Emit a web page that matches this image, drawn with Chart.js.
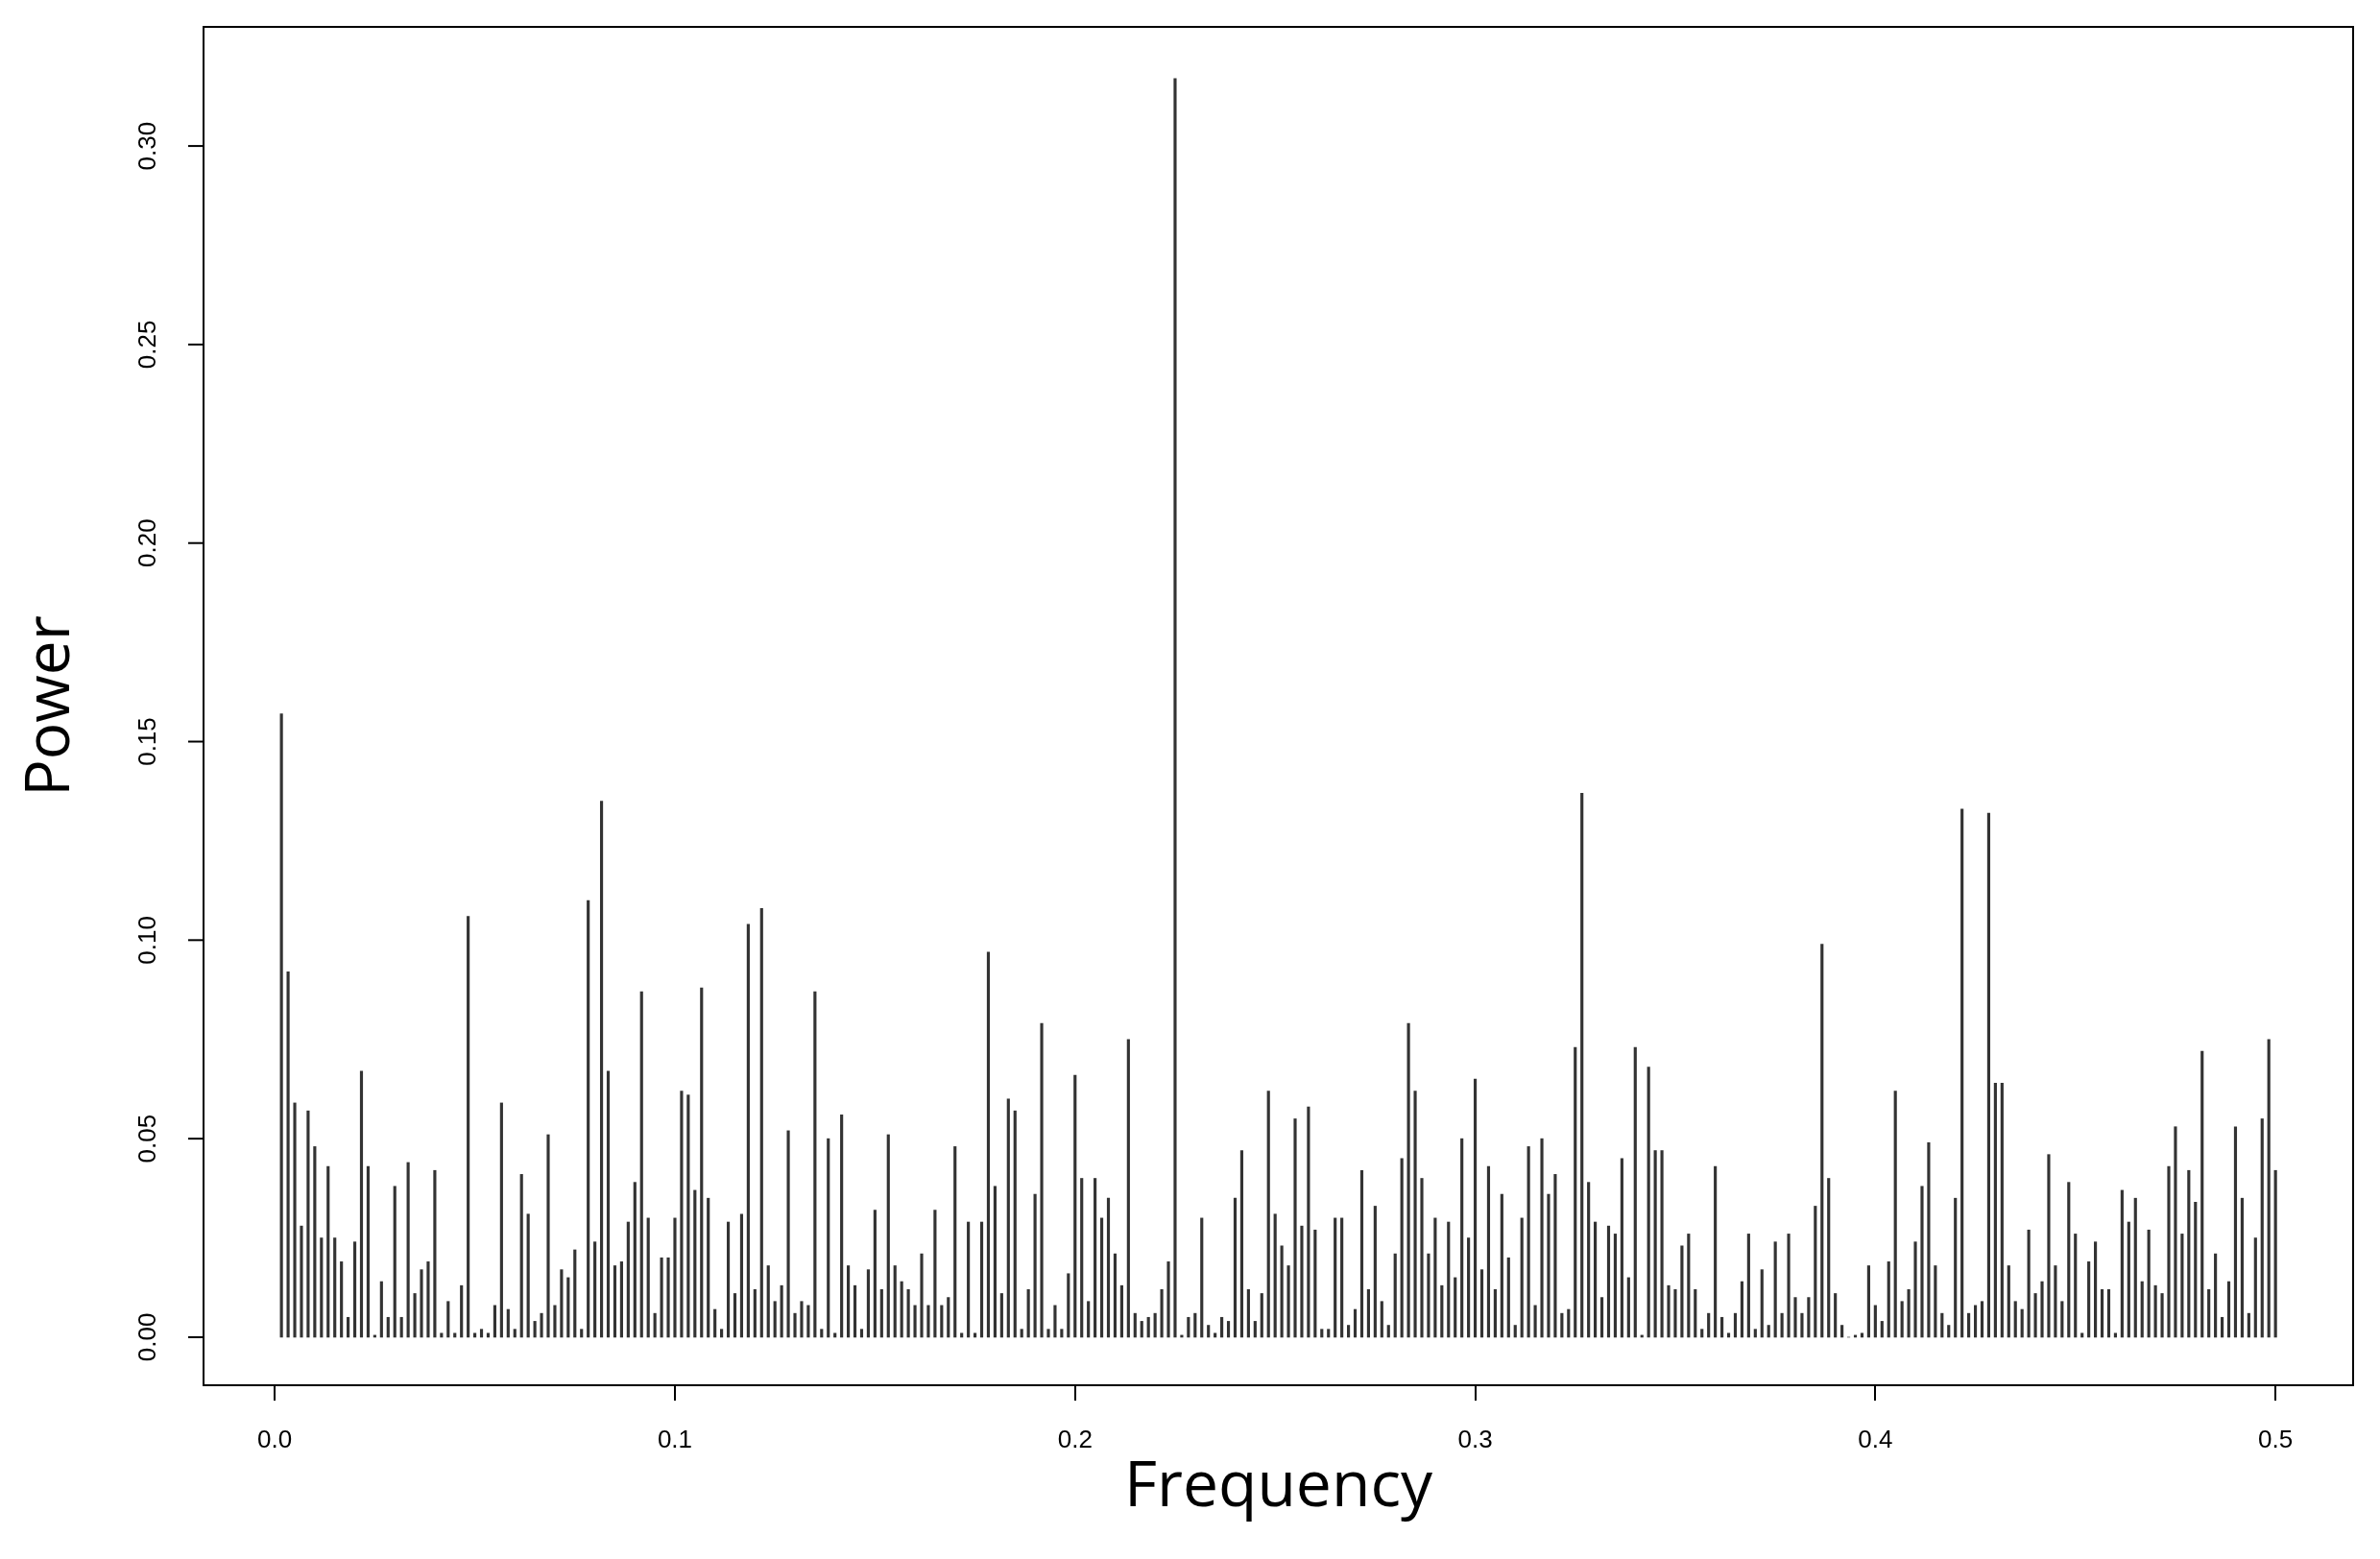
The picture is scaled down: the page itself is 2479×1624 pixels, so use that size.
<!DOCTYPE html>
<html><head><meta charset="utf-8">
<script src="https://cdn.jsdelivr.net/npm/chart.js@4.4.0/dist/chart.umd.min.js"></script>
<style>html,body{margin:0;padding:0;background:#fff}#wrap{width:2479px;height:1624px}</style>
</head><body><div id="wrap"><canvas id="c"></canvas></div>
<script>
const powerValues = [
0.157,0.092,0.059,0.028,0.057,0.048,0.025,0.043,0.025,0.019,0.005,0.024,0.067,0.043,0.0005,0.014,0.005,0.038,0.005,0.044,0.011,0.017,0.019,0.042,
0.001,0.009,0.001,0.013,0.106,0.001,0.002,0.001,0.008,0.059,0.007,0.002,0.041,0.031,0.004,0.006,0.051,0.008,0.017,0.015,0.022,0.002,0.110,0.024,0.135,
0.067,0.018,0.019,0.029,0.039,0.087,0.030,0.006,0.020,0.020,0.030,0.062,0.061,0.037,0.088,0.035,0.007,0.002,0.029,0.011,0.031,0.104,0.012,0.108,0.018,
0.009,0.013,0.052,0.006,0.009,0.008,0.087,0.002,0.050,0.001,0.056,0.018,0.013,0.002,0.017,0.032,0.012,0.051,0.018,0.014,0.012,0.008,0.021,0.008,0.032,0.008,
0.010,0.048,0.001,0.029,0.001,0.029,0.097,0.038,0.011,0.060,0.057,0.002,0.012,0.036,0.079,0.002,0.008,0.002,0.016,0.066,0.040,0.009,0.040,0.030,0.035,
0.021,0.013,0.075,0.006,0.004,0.005,0.006,0.012,0.019,0.317,0.0005,0.005,0.006,0.030,0.003,0.001,0.005,0.004,0.035,0.047,0.012,0.004,0.011,0.062,0.031,
0.023,0.018,0.055,0.028,0.058,0.027,0.002,0.002,0.030,0.030,0.003,0.007,0.042,0.012,0.033,0.009,0.003,0.021,0.045,0.079,0.062,0.040,0.021,0.030,0.013,
0.029,0.015,0.050,0.025,0.065,0.017,0.043,0.012,0.036,0.020,0.003,0.030,0.048,0.008,0.050,0.036,0.041,0.006,0.007,0.073,0.137,0.039,0.029,0.010,0.028,
0.026,0.045,0.015,0.073,0.0005,0.068,0.047,0.047,0.013,0.012,0.023,0.026,0.012,0.002,0.006,0.043,0.005,0.001,0.006,0.014,0.026,0.002,0.017,0.003,0.024,0.006,
0.026,0.010,0.006,0.010,0.033,0.099,0.040,0.011,0.003,0,0.0005,0.001,0.018,0.008,0.004,0.019,0.062,0.009,0.012,0.024,0.038,0.049,0.018,0.006,0.003,
0.035,0.133,0.006,0.008,0.009,0.132,0.064,0.064,0.018,0.009,0.007,0.027,0.011,0.014,0.046,0.018,0.009,0.039,0.026,0.001,0.019,0.024,0.012,0.012,0.001,
0.037,0.029,0.035,0.014,0.027,0.013,0.011,0.043,0.053,0.026,0.042,0.034,0.072,0.012,0.021,0.005,0.014,0.053,0.035,0.006,0.025,0.055,0.075,0.042
];
const nyquist = 0.5;
const frequencies = powerValues.map((_, i) => (i + 1) * nyquist / powerValues.length);
const xTicks = [0.0, 0.1, 0.2, 0.3, 0.4, 0.5];
const yTicks = [0.00, 0.05, 0.10, 0.15, 0.20, 0.25, 0.30];

const boxPlugin = {
  id: 'box',
  afterDraw(chart) {
    const {ctx, chartArea: a} = chart;
    ctx.save();
    ctx.strokeStyle = '#000'; ctx.lineWidth = 2;
    ctx.strokeRect(a.left, a.top, a.right - a.left, a.bottom - a.top);
    const ys = chart.scales.y;
    ctx.fillStyle = '#000';
    ctx.font = '26px "Liberation Sans", Arial, sans-serif';
    ctx.textAlign = 'center'; ctx.textBaseline = 'middle';
    yTicks.forEach(v => {
      const py = ys.getPixelForValue(v);
      ctx.beginPath(); ctx.moveTo(a.left, py); ctx.lineTo(a.left - 16, py); ctx.stroke();
      ctx.save(); ctx.translate(155, py); ctx.rotate(-Math.PI / 2);
      ctx.fillText(v.toFixed(2), 0, 0); ctx.restore();
    });
    ctx.restore();
  }
};

new Chart(document.getElementById('c'), {
  type: 'bar',
  data: { datasets: [{ data: frequencies.map((f, i) => ({x: f, y: powerValues[i]})),
    backgroundColor: '#333', barThickness: 2.5 }] },
  options: {
    responsive: true, maintainAspectRatio: false, animation: false,
    layout: { padding: { top: 28, right: 28, left: 0, bottom: 0 } },
    plugins: { legend: { display: false }, tooltip: { enabled: false } },
    scales: {
      x: { type: 'linear', min: -0.0178, max: 0.5194, offset: false,
        afterBuildTicks: s => { s.ticks = xTicks.map(v => ({value: v})); },
        afterFit: s => { s.height = 181; },
        grid: { display: true, offset: false, drawOnChartArea: false, drawTicks: true, tickLength: 16, color: '#000', lineWidth: 2 },
        border: { display: false },
        ticks: { color: '#000', font: { size: 26, family: '"Liberation Sans", Arial, sans-serif' }, padding: 26,
          maxRotation: 0, callback: v => Number(v).toFixed(1) },
        title: { display: true, text: 'Frequency', color: '#000',
          font: { size: 66, family: '"Open Sans", sans-serif' }, padding: { top: 0, bottom: 34 } } },
      y: { min: -0.0121, max: 0.33,
        afterBuildTicks: s => { s.ticks = yTicks.map(v => ({value: v})); },
        afterFit: s => { s.width = 212; },
        grid: { display: false },
        border: { display: false },
        ticks: { callback: () => '', padding: 0 },
        title: { display: true, text: 'Power', color: '#000',
          font: { size: 64, family: '"Open Sans", sans-serif' }, padding: { top: 15, bottom: 0 } } }
    }
  },
  plugins: [boxPlugin]
});
</script></body></html>
